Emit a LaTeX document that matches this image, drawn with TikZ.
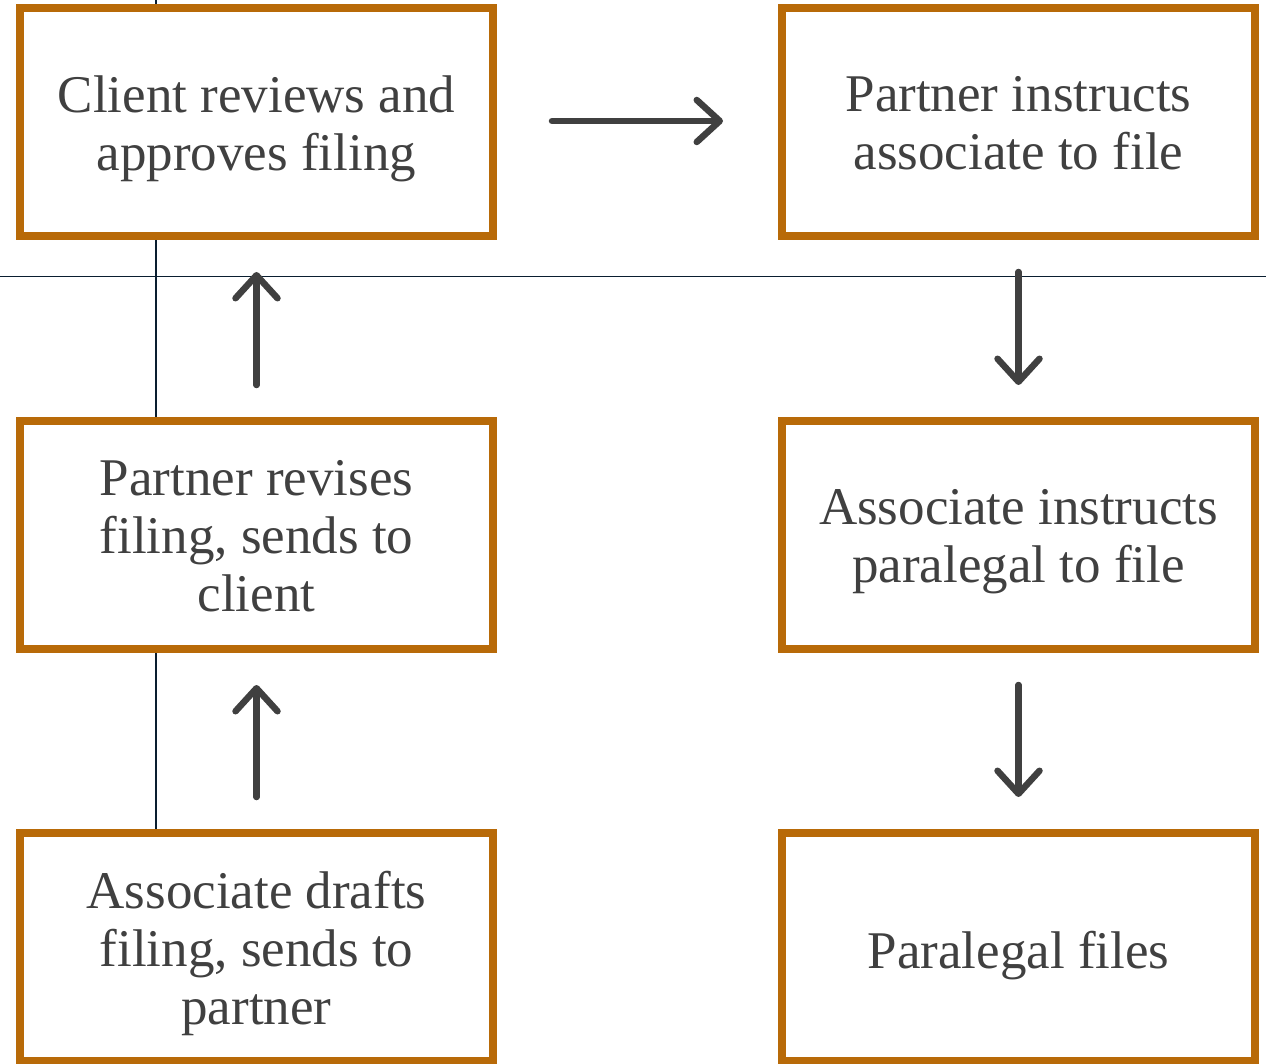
\documentclass[tikz,border=0pt]{standalone}
\usepackage{fontspec}
\setmainfont{Liberation Serif}
\usetikzlibrary{arrows.meta}
\definecolor{ochre}{RGB}{184,106,8}
\definecolor{inkgray}{RGB}{64,64,64}
\definecolor{navy}{RGB}{10,30,48}
\begin{document}
\begin{tikzpicture}[x=1pt,y=-1pt,
  stepbox/.style={draw=ochre, line width=8pt, fill=white,
    minimum width=473pt, minimum height=228pt, inner sep=0pt},
  steptext/.style={text=inkgray, align=center, inner sep=0pt,
    font=\fontsize{53}{58}\selectfont, yshift=-10pt,
    execute at begin node=\strut, execute at end node=\strut},
  flow/.style={draw=inkgray, line width=6.5pt, line cap=round,
    -{Straight Barb[length=23pt, width=42pt, round]},
    shorten <=32pt, shorten >=32pt},
  guide/.style={draw=navy, line width=1.3pt}]
\useasboundingbox (0,0) rectangle (1266,1064);

% guide lines behind the boxes
\coordinate (vtop) at (156,0);
\coordinate (vbot) at (156,829);
\coordinate (hl) at (0,276.5);
\coordinate (hr) at (1266,276.5);
\draw[guide] (vtop) -- (vbot);
\draw[guide] (hl) -- (hr);

% process steps
\node[stepbox, label={[steptext]center:{Client reviews and\\approves filing}}]
  (tl) at (256.5,122) {};
\node[stepbox, label={[steptext]center:{Partner instructs\\associate to file}}]
  (tr) at (1018.5,122) {};
\node[stepbox, label={[steptext]center:{Partner revises\\filing, sends to\\client}}]
  (ml) at (256.5,535) {};
\node[stepbox, label={[steptext]center:{Associate instructs\\paralegal to file}}]
  (mr) at (1018.5,535) {};
\node[stepbox, label={[steptext]center:{Associate drafts\\filing, sends to\\partner}}]
  (bl) at (256.5,947) {};
\node[stepbox, label={[steptext]center:{Paralegal files}}]
  (br) at (1018.5,947) {};

% flow arrows
\draw[flow, shorten <=55pt, shorten >=55pt] ([yshift=1pt]tl.east) -- ([yshift=1pt]tr.west);
\draw[flow] (tr) -- (mr);
\draw[flow] (mr) -- (br);
\draw[flow] (bl) -- (ml);
\draw[flow] (ml) -- (tl);
\end{tikzpicture}
\end{document}
